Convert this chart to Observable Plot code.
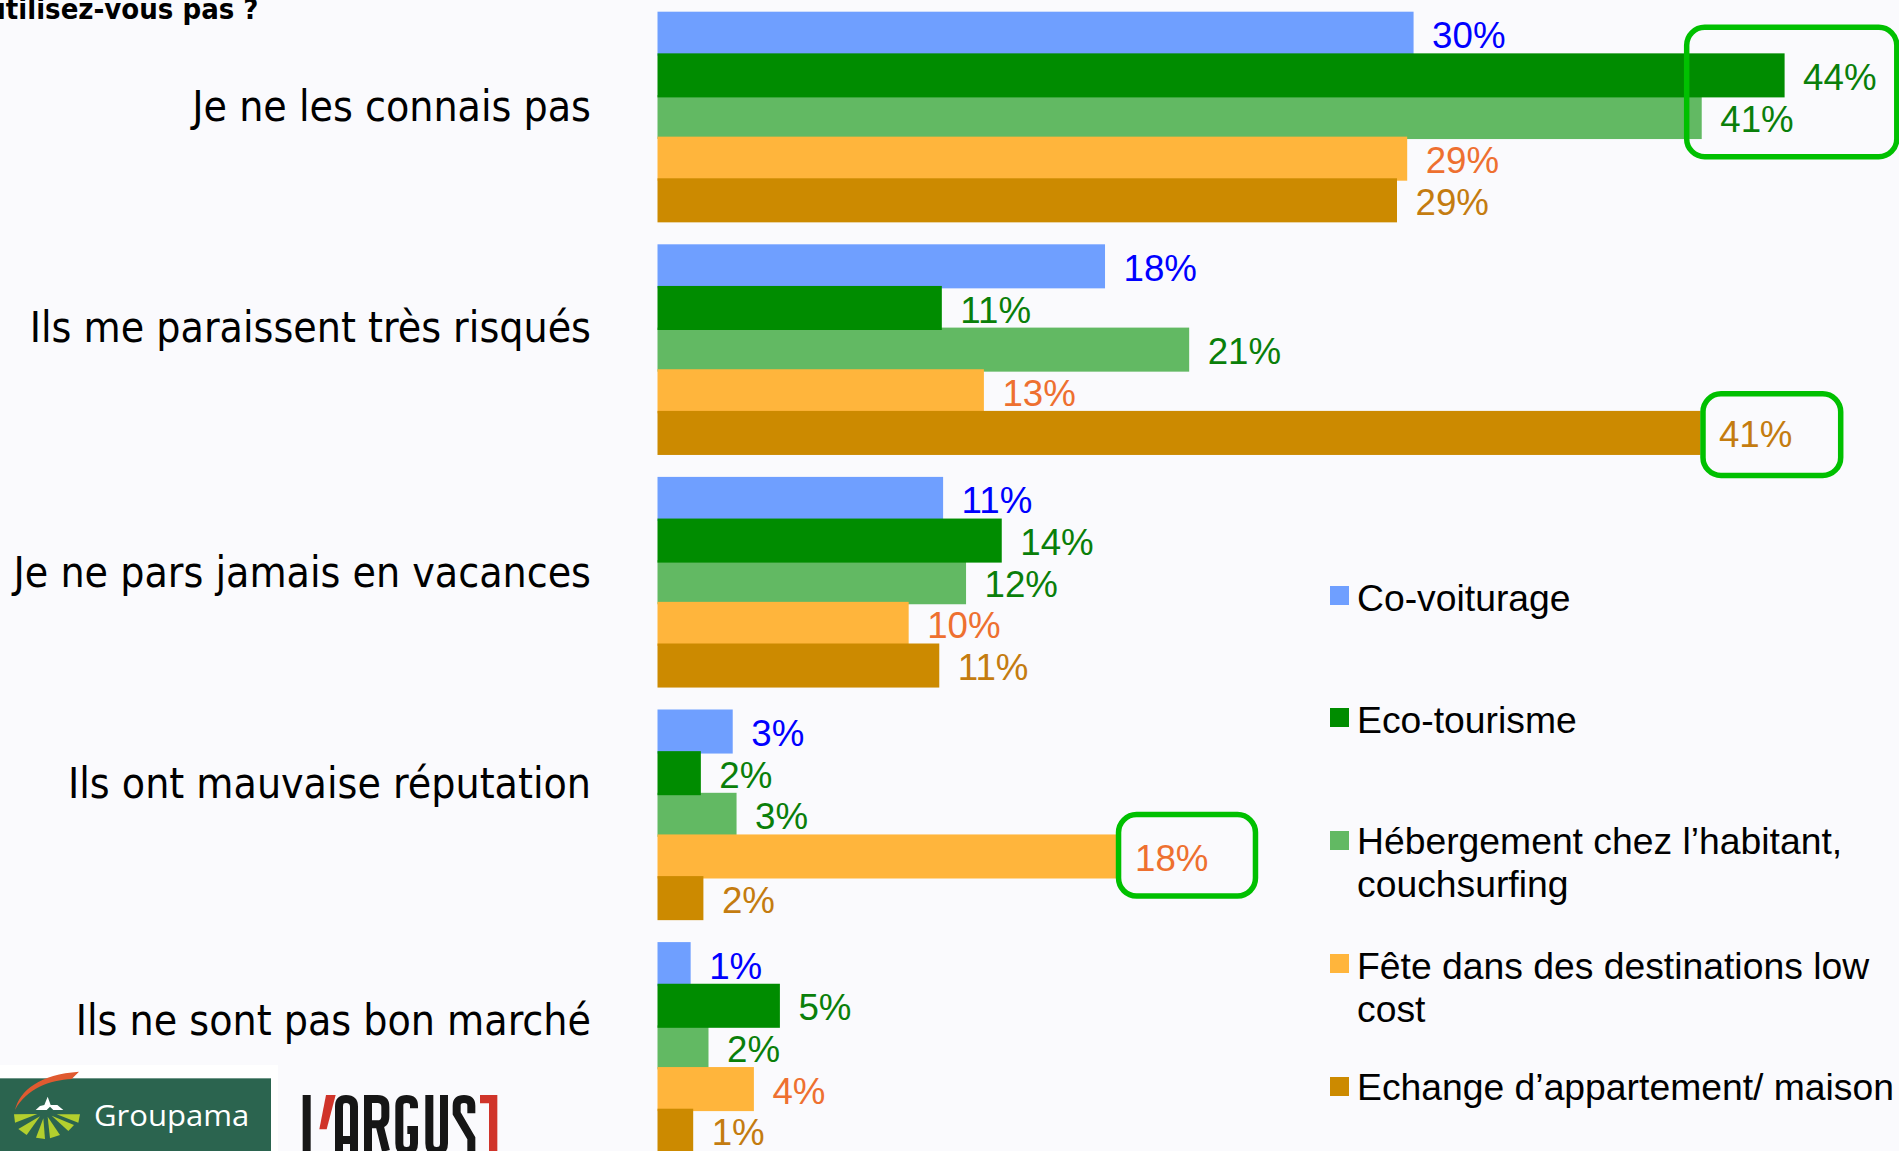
<!DOCTYPE html>
<html><head><meta charset="utf-8">
<script src="https://cdn.jsdelivr.net/npm/d3@7"></script>
<script src="https://cdn.jsdelivr.net/npm/@observablehq/plot@0.6"></script>
<style>
html,body{margin:0;padding:0;background:#fafafd;overflow:hidden;width:1899px;height:1151px}
#wrap{position:relative;width:1899px;height:1151px;overflow:hidden}
#wrap>svg{position:absolute;left:0;top:0}
.cat text,.ttl text{font-stretch:condensed}
.lg{position:absolute;font:37.3px/43px "Liberation Sans",Arial,sans-serif;color:#000;white-space:pre}
.sw{position:absolute;width:19px;height:19px}
</style></head><body><div id="wrap"></div>
<script>
const reasons=["Je ne les connais pas","Ils me paraissent très risqués","Je ne pars jamais en vacances","Ils ont mauvaise réputation","Ils ne sont pas bon marché"];
const reasonRows=[2.28,7.6,13.47,18.55,24.23];
const series=["Co-voiturage","Eco-tourisme","Hébergement chez l’habitant, couchsurfing","Fête dans des destinations low cost","Echange d’appartement/ maison"];
const colors=["#6f9fff","#008c00","#62b963","#ffb53c","#cc8a00"];
const labelColors=["#0000ff","#0a7f0a","#0a7f0a","#ee7030","#c47c10"];
const drawOrder=[0,2,1,3,4];
const coVoiturage=[29.65,17.55,11.2,2.95,1.3];
const ecoTourisme=[44.2,11.15,13.5,1.7,4.8];
const hebergement=[40.95,20.85,12.1,3.1,2.0];
const fete=[29.4,12.8,9.85,18.0,3.78];
const echange=[29.0,40.9,11.05,1.8,1.4];
const printed=[[30,18,11,3,1],[44,11,14,2,5],[41,21,12,3,2],[29,13,10,18,4],[29,41,11,2,1]];
const highlights=[
 {group:0,first:1,last:2,from:40.36,to:48.6,t:-26,b:-20},
 {group:1,first:4,last:4,from:41.0,to:46.4,t:-17.1,b:-22.9},
 {group:3,first:3,last:3,from:18.08,to:23.45,t:-19.9,b:-19.9}
];
const values=[coVoiturage,ecoTourisme,hebergement,fete,echange];
const pxStep=41.65,period=232.6/41.65;
const rowTop=(g,s)=>g*period+s;
const rows=[];
drawOrder.forEach(s=>reasons.forEach((r,g)=>rows.push({g,s,value:values[s][g],label:printed[s][g]+"%"})));
const totalH=1151,topPx=11.7;
const plot=Plot.plot({
 width:1899,height:totalH,margin:0,marginLeft:657.5,marginRight:0,marginTop:topPx,marginBottom:0,
 style:{background:"transparent"},
 x:{domain:[0,(1899-657.5)/25.5],axis:null},
 y:{domain:[0,(totalH-topPx)/pxStep],range:[topPx,totalH],axis:null},
 marks:[
  Plot.rect(rows,{x1:0,x2:"value",y1:d=>rowTop(d.g,d.s),y2:d=>rowTop(d.g,d.s)+1,fill:d=>colors[d.s],insetTop:0,insetBottom:-2.4}),
  Plot.text(rows,{x:"value",y:d=>rowTop(d.g,d.s)+.5,text:"label",fill:d=>labelColors[d.s],textAnchor:"start",dx:18,dy:3.5,fontSize:36.7,fontFamily:"Liberation Sans"}),
  ...highlights.map(h=>Plot.rect([h],{x1:"from",x2:"to",y1:d=>rowTop(d.group,d.first),y2:d=>rowTop(d.group,d.last)+1,fill:"none",stroke:"#00c000",strokeWidth:5.5,rx:18,insetTop:h.t,insetBottom:h.b})),
  Plot.text(reasons,{x:0,y:(d,i)=>reasonRows[i],text:d=>d,textAnchor:"end",dx:-67,fontSize:42.4,fontFamily:"DejaVu Sans Condensed",className:"cat",fill:"#000"}),
  Plot.text(["utilisez-vous pas ?"],{frameAnchor:"top-left",text:d=>d,textAnchor:"end",dx:258-657.5,dy:-14,fontSize:29,fontWeight:"bold",fontFamily:"DejaVu Sans Condensed",className:"ttl",fill:"#000"})
 ]
});
const wrap=document.getElementById("wrap");
wrap.appendChild(plot);
const legendTop=[586,708,831,954,1077];
const legendTextTop=[577,699,820,945,1066];
const legendText=["Co-voiturage","Eco-tourisme","Hébergement chez l’habitant,\ncouchsurfing","Fête dans des destinations low\ncost","Echange d’appartement/ maison"];
series.forEach((s,i)=>{
 const sw=document.createElement("div");sw.className="sw";sw.style.cssText=`left:1330px;top:${legendTop[i]}px;background:${colors[i]}`;wrap.appendChild(sw);
 const t=document.createElement("div");t.className="lg";t.style.cssText=`left:1357px;top:${legendTextTop[i]}px`;t.textContent=legendText[i];wrap.appendChild(t);
});
const logos=document.createElement("div");
logos.innerHTML=`<svg style="position:absolute;left:0;top:1055px" width="290" height="96" viewBox="0 0 870 288">
<rect x="0" y="30" width="834" height="258" fill="#fff"/><rect x="0" y="70" width="813" height="218" fill="#2b644f"/>
<path d="M45,165 C60,105 120,58 237,50 L215,72 C150,75 80,100 45,165Z" fill="#e05a30"/>
<path d="M107,165 L120,153 L133,150 L143,125 L152,150 L172,150 L190,165 L160,165 L150,155 L140,165Z" fill="#fff"/>
<g fill="#b3cf2e"><path d="M42,178 L112,177 L45,203Z"/><path d="M55,222 L120,184 L80,240Z"/><path d="M108,248 L130,190 L135,252Z"/><path d="M150,250 L143,185 L180,240Z"/><path d="M205,228 L155,182 L222,210Z"/><path d="M240,178 L170,178 L235,203Z"/></g>
<text x="282" y="212" fill="#fff" font-family="Open Sans" font-size="86" textLength="466" lengthAdjust="spacingAndGlyphs">Groupama</text>
</svg>
<svg style="position:absolute;left:290px;top:1075px" width="230" height="76" viewBox="0 0 690 228">
<g fill="none" stroke="#161616" stroke-width="24">
<path d="M50,60 V228"/>
<path d="M147,228 V95 Q147,72 168,72 Q192,72 192,95 V228 M147,195 H192"/>
<path d="M234,228 V72 H262 Q286,72 286,95 V125 Q286,148 262,148 H234 M268,148 L288,228"/>
<path d="M372,100 V92 Q372,72 350,72 Q328,72 328,92 V205 Q328,228 350,228 Q372,228 372,205 V165 H352"/>
<path d="M418,60 V205 Q418,228 440,228 Q462,228 462,205 V60"/>
<path d="M544,115 V92 Q544,72 522,72 Q500,72 500,92 V115 L544,190 V228"/>
</g>
<path d="M108,60 H137 L110,163 H88Z" fill="#d0342a"/>
<path d="M570,60 H622 V228 H597 V85 H570Z" fill="#d0342a"/>
</svg>`;
wrap.appendChild(logos);
</script></body></html>
